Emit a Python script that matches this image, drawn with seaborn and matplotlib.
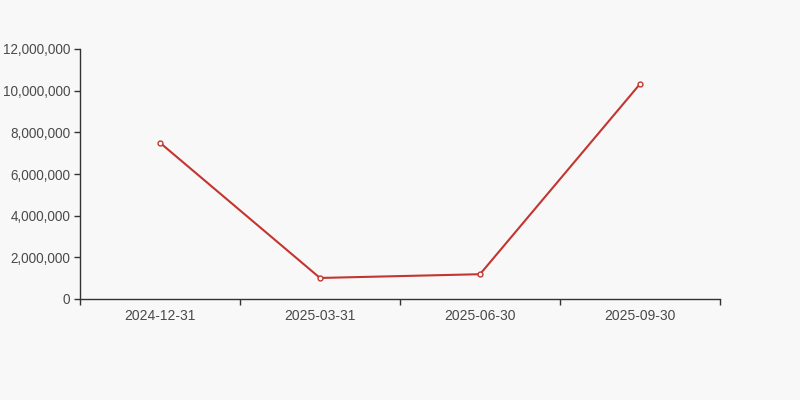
import pandas as pd
import matplotlib.pyplot as plt
import seaborn as sns
from matplotlib.ticker import FuncFormatter, FixedLocator

# Data
dates = ['2024-12-31', '2025-03-31', '2025-06-30', '2025-09-30']
values = [7500000, 1010000, 1190000, 10320000]
y_ticks = [0, 2000000, 4000000, 6000000, 8000000, 10000000, 12000000]

data = pd.DataFrame({'date': dates, 'value': values})

bg = '#f8f8f8'
axis_color = '#333333'
label_color = '#4a4a4a'
line_color = '#c23531'

sns.set_style('white')
plt.rcParams['font.family'] = ['Liberation Sans', 'DejaVu Sans']

fig = plt.figure(figsize=(8, 4), dpi=100, facecolor=bg)
ax = fig.add_axes([0.1, 0.2525, 0.8, 0.625])
ax.set_facecolor(bg)

sns.lineplot(x='date', y='value', data=data, ax=ax, color=line_color,
             linewidth=1.5, marker='o', markersize=3.5,
             markerfacecolor='white', markeredgecolor=line_color,
             markeredgewidth=1)

ax.set_xlim(-0.5, len(dates) - 0.5)
ax.set_ylim(0, 12000000)
ax.set_yticks(y_ticks)
ax.yaxis.set_major_formatter(FuncFormatter(lambda v, p: f'{int(v):,}'))

# labels in band centres, tick marks on band boundaries
ax.set_xticks(range(len(dates)))
ax.set_xticklabels(dates)
ax.xaxis.set_minor_locator(FixedLocator([i - 0.5 for i in range(len(dates) + 1)]))
ax.tick_params(axis='x', which='major', bottom=True, length=0, pad=7,
               labelsize=10, labelcolor=label_color)
ax.tick_params(axis='x', which='minor', bottom=True, length=4, width=1,
               color=axis_color, direction='out')
ax.tick_params(axis='y', length=4, width=1, color=axis_color,
               labelsize=9.75, labelcolor=label_color, pad=3, left=True)

for side in ['top', 'right']:
    ax.spines[side].set_visible(False)
for side in ['left', 'bottom']:
    ax.spines[side].set_color(axis_color)
    ax.spines[side].set_linewidth(1)

ax.set_xlabel('')
ax.set_ylabel('')
ax.grid(False)

fig.savefig('out.png', dpi=100, facecolor=bg)
